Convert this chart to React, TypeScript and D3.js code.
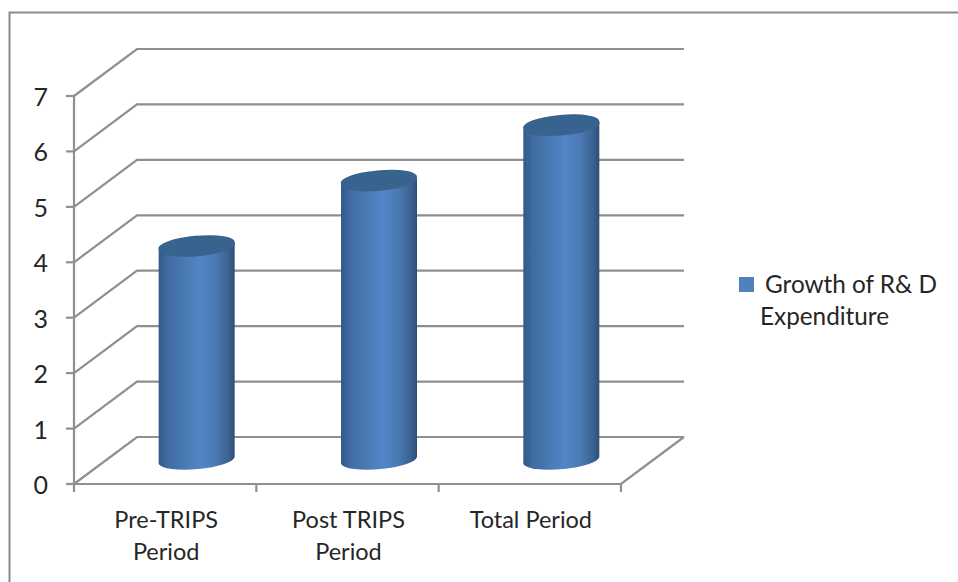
import React from "react";
import * as d3 from "d3";

const categories = ["Pre-TRIPS Period", "Post TRIPS Period", "Total Period"];
const categoryLines = [["Pre-TRIPS", "Period"], ["Post TRIPS", "Period"], ["Total Period"]];
const growthValues = [3.87, 5.05, 6.05];
const yTicks = [0, 1, 2, 3, 4, 5, 6, 7];
const legendLines = ["Growth of R& D", "Expenditure"];

const FONT = "Lato, Carlito, 'Open Sans', sans-serif";
const GRID = "#8f8f8f";
const TEXT = "#262626";

// Floor and back wall offset of the 3D projection
const depth = { dx: 63, dy: -47 };
const x = d3.scaleBand<string>().domain(categories).range([74, 621]);
const y = d3.scaleLinear().domain([0, 7]).range([484, 96]);

const radius = 38;
const tilt = 3.5;

function cylinderBody(cx: number, top: number, base: number) {
  const arc = `A${radius + 0.3} 9.5 -5 0 0`;
  return `M${cx - radius} ${top + tilt}L${cx - radius} ${base + tilt}${arc} ${cx + radius} ${base - tilt}L${cx + radius} ${top - tilt}Z`;
}

function cylinderTop(cx: number, top: number) {
  const arc = `A${radius + 0.3} 9.5 -5 1 1`;
  return `M${cx - radius} ${top + tilt}${arc} ${cx + radius} ${top - tilt}${arc} ${cx - radius} ${top + tilt}Z`;
}

export default function App() {
  const [x0, x1] = x.range();
  const midDx = depth.dx / 2;
  const midDy = depth.dy / 2;
  return (
    <svg width={958} height={582} style={{ position: "absolute", left: 0, top: 0, background: "#fff" }} fontFamily={FONT}>
      <defs>
        <linearGradient id="cyl" x1="0" x2="1" y1="0" y2="0">
          <stop offset="0" stopColor="#31598a" />
          <stop offset="0.12" stopColor="#3f6ca2" />
          <stop offset="0.35" stopColor="#4a7ab4" />
          <stop offset="0.55" stopColor="#5286c8" />
          <stop offset="0.75" stopColor="#4a79b3" />
          <stop offset="0.92" stopColor="#3a6290" />
          <stop offset="1" stopColor="#2f4e75" />
        </linearGradient>
      </defs>

      {/* Outer frame, open on the right and bottom */}
      <path d="M958 12.5H9.5V582" fill="none" stroke="#8c8c8c" strokeWidth={2} />

      {/* Wall gridlines with their side-wall returns */}
      {yTicks.map((t) => (
        <path
          key={t}
          d={`M${x0} ${y(t)}L${x0 + depth.dx} ${y(t) + depth.dy}H${x1 + depth.dx}`}
          fill="none"
          stroke={GRID}
          strokeWidth={2.2}
        />
      ))}

      {/* Floor edges */}
      <path
        d={`M${x0} ${y(0)}H${x1}L${x1 + depth.dx} ${y(0) + depth.dy}`}
        fill="none"
        stroke={GRID}
        strokeWidth={2.2}
      />

      {/* Value axis */}
      <line x1={x0} x2={x0} y1={y(7)} y2={y(0)} stroke={GRID} strokeWidth={2.2} />
      {yTicks.map((t) => (
        <g key={t}>
          <line x1={x0 - 8} x2={x0} y1={y(t)} y2={y(t)} stroke={GRID} strokeWidth={2.2} />
          <text x={48} y={y(t) + 10} textAnchor="end" fontSize={25} fill={TEXT}>
            {t}
          </text>
        </g>
      ))}

      {/* Category axis */}
      {[...categories.map((c) => x(c) as number), x1].map((px) => (
        <line key={px} x1={px} x2={px} y1={y(0)} y2={y(0) + 8} stroke={GRID} strokeWidth={2.2} />
      ))}
      {categories.map((c, i) => (
        <text key={c} textAnchor="middle" fontSize={23.5} fill={TEXT}>
          {categoryLines[i].map((line, j) => (
            <tspan key={line} x={(x(c) as number) + x.bandwidth() / 2 + 1} y={528 + j * 32}>
              {line}
            </tspan>
          ))}
        </text>
      ))}

      {/* Cylinders stand halfway into the floor depth */}
      {categories.map((c, i) => {
        const cx = (x(c) as number) + x.bandwidth() / 2 + midDx;
        const base = y(0) + midDy;
        const top = y(growthValues[i]) + midDy;
        return (
          <g key={c}>
            <path d={cylinderBody(cx, top, base)} fill="url(#cyl)" />
            <path d={cylinderTop(cx, top)} fill="#39638f" />
          </g>
        );
      })}

      {/* Legend */}
      <rect x={739} y={277} width={15} height={15} fill="#4f81bd" />
      <text fontSize={24.3} fill={TEXT}>
        <tspan x={765} y={293}>{legendLines[0]}</tspan>
        <tspan x={760} y={325}>{legendLines[1]}</tspan>
      </text>
    </svg>
  );
}
